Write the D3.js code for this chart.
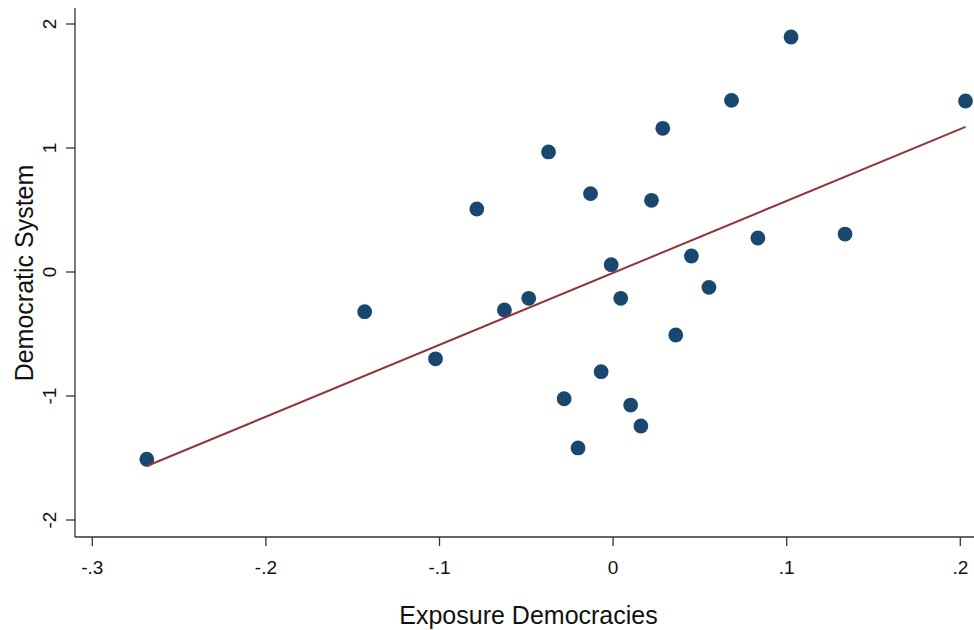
<!DOCTYPE html>
<html>
<head>
<meta charset="utf-8">
<script src="https://cdn.jsdelivr.net/npm/d3@7"></script>
<style>
  html, body { margin: 0; padding: 0; background: #fff; }
  svg { display: block; font-family: "Liberation Sans", Arial, sans-serif; }
</style>
</head>
<body>
<svg id="chart" width="974" height="630"></svg>
<script>
// Exposure to democracies (x) against democratic system score (y)
const exposure = [-0.2686, -0.1431, -0.1023, -0.0785, -0.0626, -0.0486, -0.0372,
  -0.0282, -0.0202, -0.0130, -0.0069, -0.0011, 0.0044, 0.0101, 0.0160, 0.0221,
  0.0286, 0.0361, 0.0451, 0.0552, 0.0682, 0.0834, 0.1025, 0.1336, 0.2030];
const democratic = [-1.510, -0.320, -0.700, 0.508, -0.306, -0.212, 0.968,
  -1.022, -1.419, 0.632, -0.804, 0.059, -0.212, -1.073, -1.242, 0.578,
  1.159, -0.508, 0.129, -0.124, 1.384, 0.274, 1.895, 0.306, 1.379];
// Fitted values line: intercept and slope
const fitIntercept = -0.007;
const fitSlope = 5.80;
const xTicks = [-0.3, -0.2, -0.1, 0, 0.1, 0.2];
const yTicks = [-2, -1, 0, 1, 2];
const xTickLabels = ["-.3", "-.2", "-.1", "0", ".1", ".2"];
const yTickLabels = ["-2", "-1", "0", "1", "2"];
const xTitle = "Exposure Democracies";
const yTitle = "Democratic System";

const points = exposure.map((x, i) => ({ x, y: democratic[i] }));

// Fitted line spans the observed range of x
const [xmin, xmax] = d3.extent(exposure);
const fitted = [xmin, xmax].map(x => ({ x, y: fitIntercept + fitSlope * x }));

const svg = d3.select("#chart");
const x = d3.scaleLinear().domain([-0.3, 0.2]).range([92.3, 960.3]);
const y = d3.scaleLinear().domain([-2, 2]).range([520, 24]);

const axisColor = "#333";

// x axis
const xAxis = svg.append("g").attr("transform", "translate(0,537)");
xAxis.append("line").attr("x1", 75).attr("x2", 974).attr("y1", 0).attr("y2", 0)
  .attr("stroke", axisColor).attr("stroke-width", 1.3);
xAxis.call(g => {
  const t = g.selectAll(".tick").data(xTicks).enter().append("g")
    .attr("transform", d => `translate(${x(d)},0)`);
  t.append("line").attr("y1", 0).attr("y2", 9).attr("stroke", axisColor).attr("stroke-width", 1.3);
  t.append("text").attr("y", 37).attr("text-anchor", "middle")
    .attr("font-size", 19).attr("fill", "#111")
    .text((d, i) => xTickLabels[i]);
});

// y axis
const yAxis = svg.append("g").attr("transform", "translate(75,0)");
yAxis.append("line").attr("x1", 0).attr("x2", 0).attr("y1", 8).attr("y2", 537)
  .attr("stroke", axisColor).attr("stroke-width", 1.3);
yAxis.call(g => {
  const t = g.selectAll(".tick").data(yTicks).enter().append("g")
    .attr("transform", d => `translate(0,${y(d)})`);
  t.append("line").attr("x1", 0).attr("x2", -9).attr("stroke", axisColor).attr("stroke-width", 1.3);
  t.append("text").attr("transform", "translate(-19,0) rotate(-90)")
    .attr("text-anchor", "middle").attr("font-size", 19).attr("fill", "#111")
    .text((d, i) => yTickLabels[i]);
});

// axis titles
svg.append("text").attr("x", 528.5).attr("y", 624).attr("text-anchor", "middle")
  .attr("font-size", 25).attr("fill", "#111").text(xTitle);
svg.append("text").attr("transform", "translate(33,273) rotate(-90)")
  .attr("text-anchor", "middle").attr("font-size", 25).attr("fill", "#111").text(yTitle);

// scatter points
svg.append("g").selectAll("circle").data(points).enter().append("circle")
  .attr("cx", d => x(d.x)).attr("cy", d => y(d.y)).attr("r", 7.4)
  .attr("fill", "#1a476f");

// fitted line
svg.append("path").datum(fitted)
  .attr("d", d3.line().x(d => x(d.x)).y(d => y(d.y)))
  .attr("fill", "none").attr("stroke", "#90353b").attr("stroke-width", 2);
</script>
</body>
</html>
